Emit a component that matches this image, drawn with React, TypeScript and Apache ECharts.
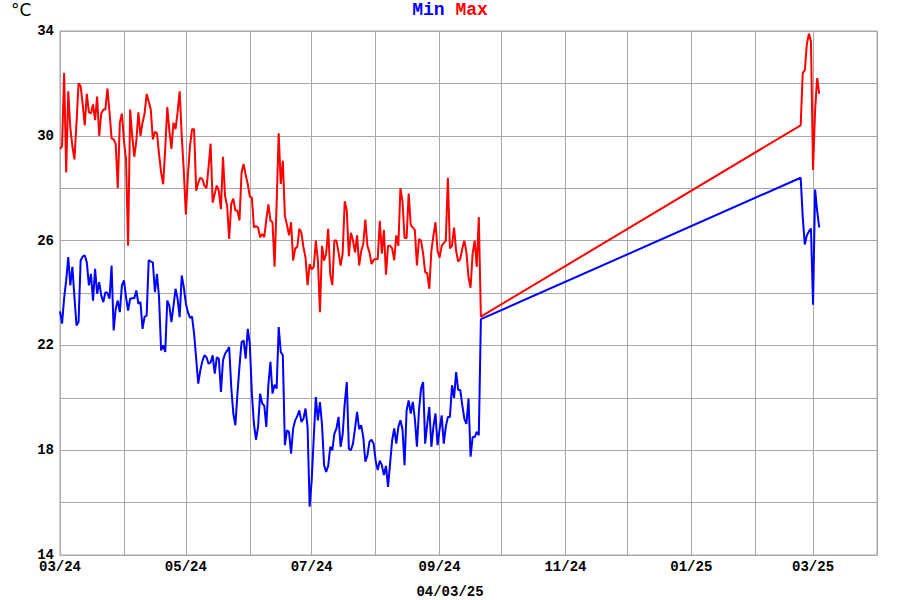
import React, { useEffect, useRef } from 'react';
import * as echarts from 'echarts';

// First run of daily readings: 1 Mar 2024 .. 21 Sep 2024
const SEG1_START = [2024, 2, 1];
// Second run of daily readings: 23 Feb 2025 .. 4 Mar 2025
const SEG2_START = [2025, 1, 23];

const MAX_SEG1 = [
  29.5, 29.6, 32.4, 28.6, 31.7, 30.3, 29.6, 29.1, 30.5, 32.0,
  31.9, 31.2, 30.4, 31.6, 30.9, 30.85, 31.2, 30.6, 31.5, 30.0,
  30.85, 31.0, 31.0, 31.8, 30.9, 29.9, 29.86, 29.7, 28.0, 30.5,
  30.85, 29.8, 29.1, 25.8, 31.0, 30.0, 29.2, 29.8, 30.9, 30.0,
  30.5, 30.85, 31.6, 31.3, 31.0, 29.86, 30.15, 30.1, 29.3, 28.6,
  28.15, 29.5, 31.1, 30.2, 29.5, 30.5, 30.25, 30.9, 31.7, 30.0,
  28.67, 27.0, 28.5, 29.6, 30.25, 30.25, 27.9, 28.2, 28.4, 28.35,
  28.1, 28.0, 28.8, 29.7, 27.45, 27.8, 28.1, 27.9, 27.2, 29.2,
  27.7, 27.33, 26.06, 27.4, 27.6, 27.15, 27.15, 26.77, 28.6, 28.92,
  28.5, 28.16, 27.68, 27.65, 26.5, 26.55, 26.5, 26.13, 26.25, 26.13,
  26.8, 27.38, 26.77, 26.7, 25.0, 27.4, 30.1, 28.16, 29.05, 26.95,
  26.6, 26.2, 26.7, 25.24, 25.7, 25.75, 26.45, 26.3, 25.75, 25.35,
  24.3, 25.1, 24.9, 25.0, 26.0, 25.24, 23.27, 25.8, 25.24, 25.5,
  26.45, 24.7, 24.3, 26.0, 26.0, 25.55, 25.05, 25.5, 27.5, 27.15,
  25.4, 26.3, 26.0, 25.55, 26.2, 25.05, 25.6, 25.87, 26.8, 25.8,
  25.55, 25.1, 25.26, 25.3, 25.3, 26.76, 25.5, 26.4, 24.7, 25.8,
  25.8, 25.7, 25.25, 26.2, 25.8, 28.0, 27.5, 26.1, 26.1, 27.8,
  26.6, 26.5, 26.4, 25.05, 26.06, 26.0, 25.5, 24.8, 24.75, 24.16,
  25.6, 26.2, 26.7, 25.6, 25.35, 25.8, 25.9, 26.0, 28.4, 25.7,
  25.8, 26.5, 25.6, 25.2, 25.3, 25.7, 26.0, 25.55, 24.6, 24.2,
  25.5, 26.0, 25.0, 26.9, 23.1,
];

const MIN_SEG1 = [
  23.3, 22.83, 23.8, 24.48, 25.37, 24.29, 25.0, 23.84, 22.76, 22.9,
  25.24, 25.4, 25.43, 25.17, 24.29, 24.73, 23.71, 24.92, 23.97, 24.41,
  23.9, 23.65, 24.03, 24.0, 23.78, 25.05, 22.57, 23.4, 23.71, 23.27,
  24.29, 24.48, 23.84, 23.33, 23.78, 23.8, 23.8, 24.1, 23.59, 23.65,
  22.63, 23.1, 23.14, 25.26, 25.2, 25.17, 24.03, 24.73, 23.84, 21.81,
  22.0, 21.75, 23.71, 23.52, 22.89, 23.5, 24.16, 23.78, 23.08, 24.67,
  24.22, 23.6, 23.27, 23.05, 23.1, 22.44, 21.5, 20.54, 21.05, 21.4,
  21.62, 21.55, 21.3, 21.35, 21.62, 20.92, 21.55, 21.49, 20.22, 21.43,
  21.68, 21.8, 21.94, 20.41, 19.4, 18.95, 20.16, 21.2, 22.13, 22.19,
  21.49, 22.63, 22.06, 20.16, 19.0, 18.4, 18.89, 20.16, 19.78, 19.7,
  18.89, 20.5, 21.37, 20.16, 20.5, 20.35, 22.7, 21.75, 21.62, 18.19,
  18.76, 18.7, 17.87, 18.83, 19.14, 19.3, 19.52, 19.08, 19.2, 19.59,
  18.89, 15.84, 16.86, 18.5, 20.03, 19.14, 19.84, 18.97, 17.43, 17.17,
  17.4, 18.13, 18.0, 18.63, 18.83, 19.27, 18.13, 18.6, 19.78, 20.6,
  18.06, 18.0, 18.25, 18.83, 19.46, 18.8, 18.95, 18.5, 17.56, 17.8,
  18.32, 18.4, 18.25, 17.6, 17.24, 17.6, 17.43, 17.05, 17.4, 16.6,
  17.5, 18.38, 18.83, 18.25, 18.89, 19.14, 18.8, 17.43, 19.52, 19.9,
  19.4, 19.84, 19.2, 18.13, 19.52, 20.35, 20.6, 18.25, 19.0, 19.65,
  18.13, 18.9, 19.4, 18.19, 18.8, 19.33, 18.25, 18.9, 19.27, 19.27,
  20.48, 20.0, 20.98, 20.3, 20.3, 19.71, 19.2, 19.0, 19.97, 17.75,
  18.5, 18.5, 18.7, 18.57, 23.0,
];

const MAX_SEG2 = [30.4, 32.4, 32.5, 33.5, 33.9, 33.6, 28.7, 31.0, 32.2, 31.6];
const MIN_SEG2 = [28.4, 26.9, 25.85, 26.2, 26.35, 26.46, 23.55, 27.95, 27.13, 26.5];

const Y_MIN = 14;
const Y_MAX = 34;
const Y_GRID_STEP = 2;
const Y_LABEL_STEP = 4;
const X_MIN = [2024, 2, 1];
const X_MAX = [2025, 3, 1];
const UNIT_TEXT = '°C';
const DATE_STAMP = '04/03/25';
const SERIES_NAMES = ['Min', 'Max'];

const MONO = '"Liberation Mono", "Courier New", monospace';
const DAY = 24 * 3600 * 1000;

function daily(start: number[], values: number[]) {
  return values.map((v, i) => [new Date(start[0], start[1], start[2] + i).getTime(), v]);
}

function pad(n: number) {
  return n < 10 ? '0' + n : '' + n;
}

export default function App() {
  const ref = useRef<HTMLDivElement>(null);

  useEffect(() => {
    if (!ref.current) return;
    const chart = echarts.init(ref.current, undefined, { renderer: 'svg' });
    const minData = daily(SEG1_START, MIN_SEG1).concat(daily(SEG2_START, MIN_SEG2));
    const maxData = daily(SEG1_START, MAX_SEG1).concat(daily(SEG2_START, MAX_SEG2));
    const gridColor = '#a9a9a9';

    chart.setOption({
      animation: false,
      backgroundColor: '#ffffff',
      title: {
        text: `{a|${SERIES_NAMES[0]}} {b|${SERIES_NAMES[1]}}`,
        left: 'center',
        top: 1,
        padding: 0,
        textStyle: {
          fontFamily: MONO,
          fontSize: 18,
          fontWeight: 'bold',
          rich: {
            a: { color: '#0000ff', fontFamily: MONO, fontSize: 18, fontWeight: 'bold' },
            b: { color: '#ff0000', fontFamily: MONO, fontSize: 18, fontWeight: 'bold' },
          },
        },
      },
      graphic: [
        {
          type: 'text',
          x: 11,
          y: 10,
          style: {
            text: UNIT_TEXT,
            font: '17px "DejaVu Sans", sans-serif',
            fill: '#000',
            textVerticalAlign: 'middle',
          },
        },
        {
          type: 'text',
          x: 450,
          y: 592,
          style: {
            text: DATE_STAMP,
            font: `bold 14px ${MONO}`,
            fill: '#000',
            textAlign: 'center',
            textVerticalAlign: 'middle',
          },
        },
      ],
      grid: {
        left: 60,
        right: 23,
        top: 31,
        bottom: 45,
        show: true,
        borderColor: gridColor,
        borderWidth: 1,
        containLabel: false,
      },
      xAxis: {
        type: 'time',
        min: new Date(X_MIN[0], X_MIN[1], X_MIN[2]).getTime(),
        max: new Date(X_MAX[0], X_MAX[1], X_MAX[2]).getTime(),
        splitNumber: 13,
        minInterval: 28 * DAY,
        maxInterval: 31 * DAY,
        axisLine: { show: true, lineStyle: { color: gridColor, width: 1 } },
        axisTick: { show: false },
        splitLine: { show: true, lineStyle: { color: gridColor, width: 1 } },
        axisLabel: {
          show: true,
          margin: 5,
          color: '#000',
          fontFamily: MONO,
          fontSize: 14,
          fontWeight: 'bold',
          hideOverlap: false,
          showMinLabel: true,
          showMaxLabel: true,
          formatter: (val: number) => {
            const d = new Date(val);
            if (d.getDate() !== 1) return '';
            const m = d.getMonth();
            if (m % 2 === 1) return '';
            return pad(m + 1) + '/' + pad(d.getFullYear() % 100);
          },
        },
      },
      yAxis: {
        type: 'value',
        min: Y_MIN,
        max: Y_MAX,
        interval: Y_GRID_STEP,
        axisLine: { show: true, lineStyle: { color: gridColor, width: 1 } },
        axisTick: { show: false },
        splitLine: { show: true, lineStyle: { color: gridColor, width: 1 } },
        axisLabel: {
          margin: 6,
          color: '#000',
          fontFamily: MONO,
          fontSize: 14,
          fontWeight: 'bold',
          formatter: (v: number) => ((v - Y_MIN) % Y_LABEL_STEP === 0 ? String(v) : ''),
        },
      },
      series: [
        {
          name: SERIES_NAMES[0],
          type: 'line',
          data: minData,
          showSymbol: false,
          symbol: 'none',
          lineStyle: { color: '#0000ff', width: 2 },
          itemStyle: { color: '#0000ff' },
        },
        {
          name: SERIES_NAMES[1],
          type: 'line',
          data: maxData,
          showSymbol: false,
          symbol: 'none',
          lineStyle: { color: '#ff0000', width: 2 },
          itemStyle: { color: '#ff0000' },
        },
      ],
    });

    return () => chart.dispose();
  }, []);

  return (
    <div
      ref={ref}
      style={{ position: 'fixed', left: 0, top: 0, width: 900, height: 600, background: '#fff' }}
    />
  );
}
